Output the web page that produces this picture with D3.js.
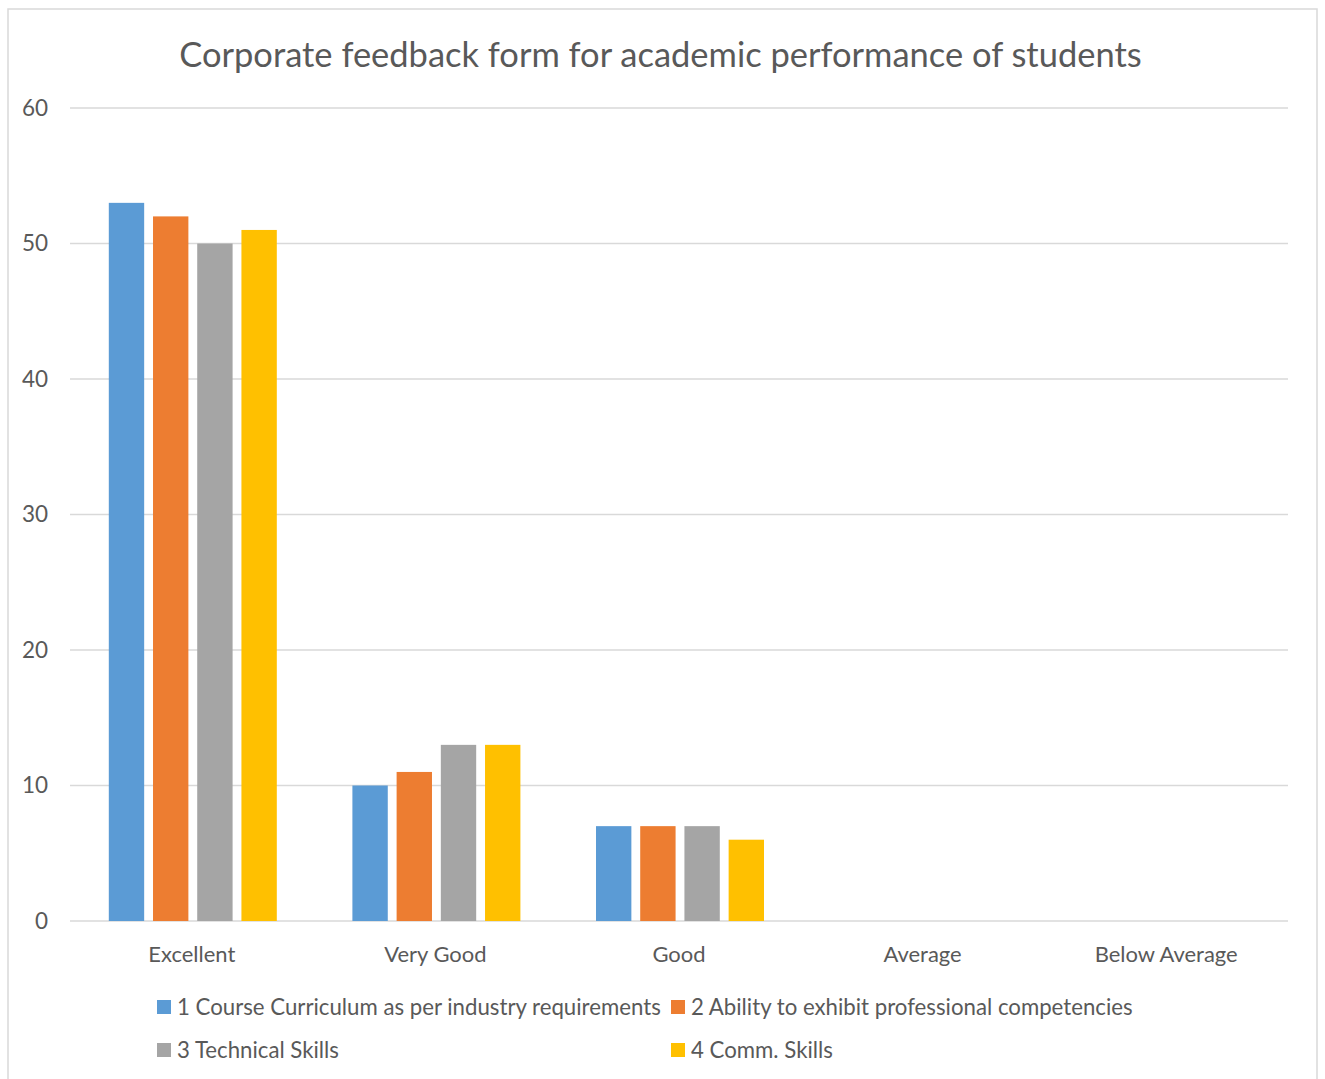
<!DOCTYPE html>
<html><head><meta charset="utf-8">
<script src="https://cdn.jsdelivr.net/npm/d3@7"></script>
<style>body{margin:0;background:#fff}svg{display:block}text{font-family:Lato,"Open Sans",sans-serif;fill:#595959}</style>
</head><body>
<script>
const categories = ["Excellent","Very Good","Good","Average","Below Average"];
const seriesNames = ["1 Course Curriculum as per industry requirements","2 Ability to exhibit professional competencies","3 Technical Skills","4 Comm. Skills"];
const seriesColors = ["#5b9bd5","#ed7d31","#a5a5a5","#ffc000"];
const s1 = [53,10,7,0,0];
const s2 = [52,11,7,0,0];
const s3 = [50,13,7,0,0];
const s4 = [51,13,6,0,0];
const seriesValues = [s1,s2,s3,s4];
const yTicks = [0,10,20,30,40,50,60];
const title = "Corporate feedback form for academic performance of students";

const W=1325,H=1079;
const svg=d3.select("body").append("svg").attr("width",W).attr("height",H);
svg.append("rect").attr("x",8).attr("y",9).attr("width",1309).attr("height",1090).attr("fill","#fff").attr("stroke","#d9d9d9").attr("stroke-width",1.5);

function fit(sel,target){const n=sel.node();const w=n.getComputedTextLength();const fs=parseFloat(sel.attr("font-size"));sel.attr("font-size",fs*target/w);}

const x=d3.scaleBand().domain(categories).range([70,1288]);
const y=d3.scaleLinear().domain([0,60]).range([921,108]);
const xs=d3.scaleBand().domain(d3.range(4)).range([0,168]).paddingInner(0.2);

svg.append("g").selectAll("line").data(yTicks).join("line")
 .attr("x1",70).attr("x2",1288).attr("y1",d=>y(d)).attr("y2",d=>y(d))
 .attr("stroke","#d9d9d9").attr("stroke-width",1.5);
svg.append("g").selectAll("text").data(yTicks).join("text")
 .attr("x",48).attr("y",d=>y(d)).attr("dy","0.35em").attr("text-anchor","end")
 .attr("font-size",22.5).text(d=>d);

const off=(x.bandwidth()-168)/2+1;
seriesValues.forEach((vals,si)=>{
 svg.append("g").selectAll("rect").data(vals).join("rect")
  .attr("x",(d,i)=>x(categories[i])+off+xs(si)).attr("width",xs.bandwidth())
  .attr("y",d=>y(d)).attr("height",d=>y(0)-y(d)).attr("fill",seriesColors[si]);
});

const cat=svg.append("g").selectAll("text").data(categories).join("text")
 .attr("x",d=>x(d)+x.bandwidth()/2).attr("y",954).attr("dy","0.35em").attr("text-anchor","middle")
 .attr("font-size",20).text(d=>d);
const cw=cat.filter(d=>d==="Excellent").node().getComputedTextLength();
cat.attr("font-size",20*87/cw);

const t=svg.append("text").attr("x",660.5).attr("y",55).attr("dy","0.35em").attr("text-anchor","middle").attr("font-size",32).text(title);
fit(t,963);

const legPos=[[157,1007],[671,1007],[157,1050],[671,1050]];
const legTexts=[];
seriesNames.forEach((n,i)=>{
 const [lx,ly]=legPos[i];
 svg.append("rect").attr("x",lx).attr("y",ly-7).attr("width",14).attr("height",14).attr("fill",seriesColors[i]);
 legTexts.push(svg.append("text").attr("x",lx+20).attr("y",ly).attr("dy","0.35em").attr("font-size",20).text(n));
});
const w0=legTexts[0].node().getComputedTextLength();
legTexts.forEach(tt=>tt.attr("font-size",20*484/w0));
</script>
</body></html>
